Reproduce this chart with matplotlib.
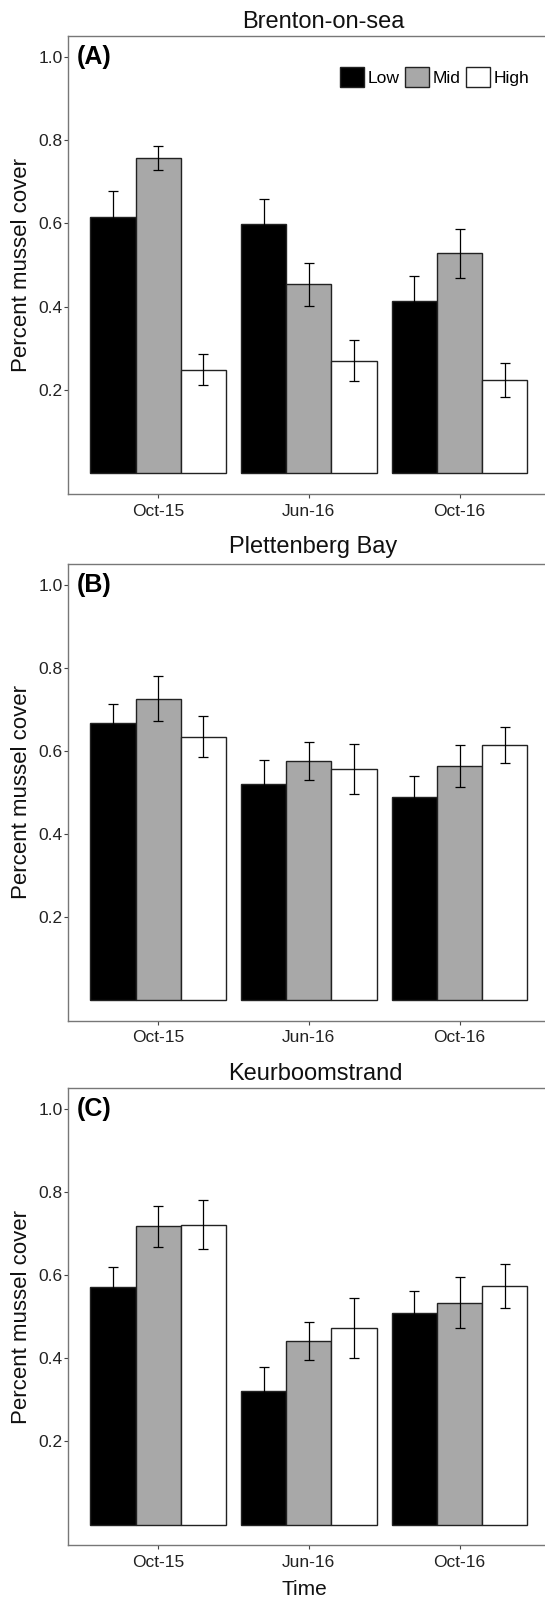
import numpy as np
import matplotlib
matplotlib.use("Agg")
import matplotlib.pyplot as plt
import matplotlib.transforms as mtransforms

plt.rcParams['font.family'] = ['Liberation Sans', 'DejaVu Sans']

# Daten
times = ['Oct-15', 'Jun-16', 'Oct-16']
levels = ['Low', 'Mid', 'High']
sites = ['Brenton-on-sea', 'Plettenberg Bay', 'Keurboomstrand']
panel_labels = ['(A)', '(B)', '(C)']

brenton_mean = {'Low': [0.616, 0.599, 0.413], 'Mid': [0.757, 0.454, 0.528], 'High': [0.249, 0.271, 0.225]}
brenton_se = {'Low': [0.061, 0.060, 0.060], 'Mid': [0.029, 0.051, 0.059], 'High': [0.037, 0.050, 0.041]}
plett_mean = {'Low': [0.666, 0.520, 0.490], 'Mid': [0.726, 0.575, 0.564], 'High': [0.634, 0.556, 0.614]}
plett_se = {'Low': [0.046, 0.058, 0.049], 'Mid': [0.055, 0.046, 0.050], 'High': [0.050, 0.060, 0.044]}
keur_mean = {'Low': [0.572, 0.321, 0.509], 'Mid': [0.718, 0.442, 0.534], 'High': [0.722, 0.474, 0.574]}
keur_se = {'Low': [0.049, 0.059, 0.054], 'Mid': [0.049, 0.045, 0.061], 'High': [0.059, 0.072, 0.053]}

means = [brenton_mean, plett_mean, keur_mean]
ses = [brenton_se, plett_se, keur_se]
colors = {'Low': 'black', 'Mid': '#a8a8a8', 'High': 'white'}

# Layout (Pixel -> Figure-Anteile)
W, H = 545, 1598
axes_px = [(36.0, 494.3), (564.0, 1020.7), (1088.4, 1545.3)]
title_pos = [(0.529, 7.7), (0.509, 10.7), (0.513, 8.5)]  # x (Achsenanteil), Grundlinie über Achse in px
left_px, right_px = 67.8, 549.9
ax_w = right_px - left_px

fig = plt.figure(figsize=(W / 100, H / 100), dpi=100)
x = np.arange(1, len(times) + 1)
width = 0.3

for k in range(3):
    top, bottom = axes_px[k]
    ax_h = bottom - top
    ax = fig.add_axes([left_px / W, 1 - bottom / H, ax_w / W, ax_h / H])
    handles = []
    for j, lev in enumerate(levels):
        pos = x + (j - 1) * width
        b = ax.bar(pos, means[k][lev], width, color=colors[lev], edgecolor='#222222', linewidth=1.0,
                   label=lev, zorder=2)
        ax.errorbar(pos, means[k][lev], yerr=ses[k][lev], fmt='none', ecolor='black',
                    elinewidth=0.9, capsize=3.6, capthick=0.9, zorder=3)
        handles.append(b)

    ax.set_xlim(0.4, 3.6)
    ax.set_ylim(-0.05, 1.05)
    ax.set_xticks(x)
    ax.set_xticklabels(times)
    ax.set_yticks([0.2, 0.4, 0.6, 0.8, 1.0])
    ax.set_yticklabels(['0.2', '0.4', '0.6', '0.8', '1.0'])
    ax.tick_params(labelsize=12.5, colors='#444444', labelcolor='#222222', length=3, width=0.8)
    ax.tick_params(axis='y', pad=0.8)
    ax.tick_params(axis='x', pad=4)
    for s in ax.spines.values():
        s.set_color('#777777')
        s.set_linewidth(1.0)

    tx, tgap = title_pos[k]
    ax.text(tx, 1 + tgap / ax_h, sites[k], transform=ax.transAxes, fontsize=17,
            ha='center', va='baseline', color='#111111')
    ax.set_ylabel('Percent mussel cover', fontsize=16, color='#111111')
    ax.yaxis.set_label_coords((31.7 - left_px) / ax_w, 0.5)
    ax.text(9 / ax_w, 1.0, panel_labels[k],
            transform=mtransforms.blended_transform_factory(ax.transAxes, ax.transData),
            fontsize=18, fontweight='bold', ha='left', va='center')

    if k == 0:
        ax.legend(handles=handles, labels=levels, loc='upper right', ncol=3, frameon=False,
                  bbox_to_anchor=((529 - left_px) / ax_w, 1 - 31 / ax_h), borderaxespad=0, borderpad=0,
                  fontsize=12.6, handlelength=1.37, handleheight=1.37,
                  handletextpad=0.2, columnspacing=0.31)
    if k == 2:
        ax.text(0.49, -(1595 - bottom) / ax_h, 'Time', transform=ax.transAxes, fontsize=15,
                ha='center', va='baseline', color='#111111')

fig.savefig('out.png', dpi=100)
